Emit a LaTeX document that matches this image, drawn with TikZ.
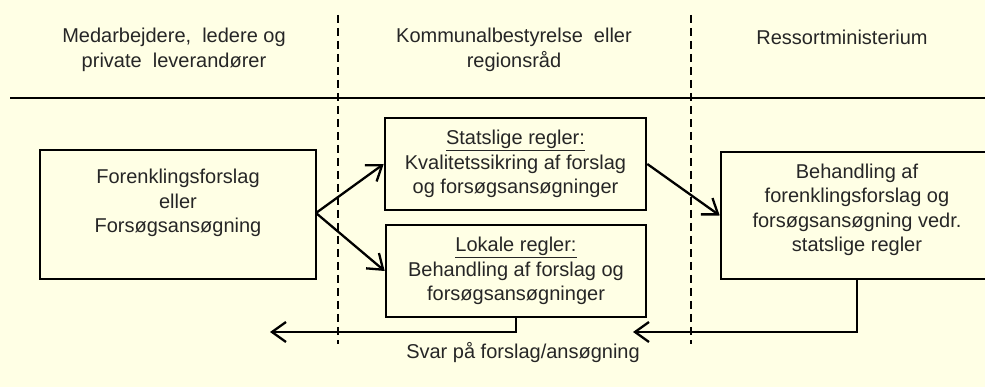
\documentclass[tikz,border=0pt]{standalone}
\usepackage{fontspec}
\setmainfont{Liberation Sans}
\usetikzlibrary{arrows.meta}
\definecolor{bg}{RGB}{255,255,229}
\definecolor{txt}{RGB}{38,38,38}
\begin{document}
\begin{tikzpicture}[x=1pt,y=-1pt,
  every node/.style={font=\fontsize{20}{24.5}\selectfont, text=txt, align=center, inner sep=0pt},
  boxnode/.style={draw=black, line width=2.6pt, rectangle},
  sep/.style={draw=black, line width=2.4pt, dash pattern=on 8pt off 5pt},
  conn/.style={draw=black, line width=2.3pt, -{Straight Barb[length=14pt,width=20pt,line width=2.3pt]}}
]
\fill[bg] (0,0) rectangle (985,387);
\useasboundingbox (0,0) rectangle (985,387);
% header
\node (h1) at (174,50) {Medarbejdere,\ \ ledere\ og\\private\ \ leverandører};
\node (h2) at (514,50) {Kommunalbestyrelse\ \ eller\\regionsråd};
\node (h3) at (842,37) {Ressortministerium};
\coordinate (hl) at (10,98);
\coordinate (hr) at (990,98);
\draw[line width=2.5pt] (hl) -- (hr);
\coordinate (d1t) at (338,15); \coordinate (d1b) at (338,344);
\coordinate (d2t) at (691,15); \coordinate (d2b) at (691,344);
\draw[sep] (d1t) -- (d1b);
\draw[sep] (d2t) -- (d2b);
% boxes
\node[boxnode, minimum width=276pt, minimum height=129pt] (left) at (178,214.5) {};
\node (lefttxt) at (178,203) {\fontsize{20}{30}\selectfont Forenklingsforslag\\eller\\Forsøgsansøgning};
\node[boxnode, minimum width=261pt, minimum height=92pt] (top) at (515.5,164) {\underline{Statslige regler:}\\Kvalitetssikring af forslag\\og forsøgsansøgninger};
\node[boxnode, minimum width=260pt, minimum height=92pt] (low) at (516,271) {\underline{Lokale regler:}\\Behandling af forslag og\\forsøgsansøgninger};
\node[boxnode, minimum width=272pt, minimum height=127pt] (right) at (857,215.5) {};
\node (righttxt) at (857,210) {Behandling af\\forenklingsforslag og\\forsøgsansøgning vedr.\\statslige regler};
% connectors
\coordinate (split) at (316,213);
\draw[conn] (split) -- (top.west);
\draw[conn] (split) -- (low.west);
\draw[conn] (top.east) -- (right.west);
\coordinate (r1) at (516,332);
\coordinate (r1end) at (270,332);
\draw[conn] (low.south) -- (r1) -- (r1end);
\coordinate (r2) at (857,332);
\coordinate (r2end) at (633,332);
\draw[conn] (right.south) -- (r2) -- (r2end);
\node (svar) at (523,353) {Svar på forslag/ansøgning};
\end{tikzpicture}
\end{document}
